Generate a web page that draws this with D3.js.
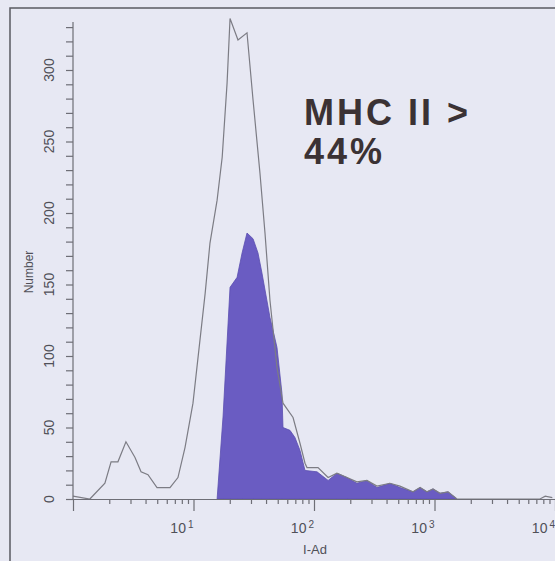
<!DOCTYPE html>
<html>
<head>
<meta charset="utf-8">
<script src="https://cdn.jsdelivr.net/npm/d3@7"></script>
<style>
  body { margin: 0; background: #e8e8f2; }
  svg { display: block; font-family: "Liberation Sans", Arial, sans-serif; }
</style>
</head>
<body>
<script>
// I-Ad fluorescence (channel value) vs cell count
const outlineX = [1, 1.38, 1.84, 2.07, 2.36, 2.75, 3.27, 3.67, 4.19, 4.98, 6.38, 7.43, 8.5, 9.9,
  12.5, 13.7, 15.7, 17.3, 19.0, 20.1, 23.4, 27.8, 31.2, 35.6, 39.2, 43.1, 49.3, 55.3, 67, 76.5,
  84.2, 87.5, 108, 131, 155, 188, 227, 275, 333, 427, 517, 663, 759, 866, 972, 1111, 1295, 1537,
  3500, 7500, 8300, 9500];
const outlineY = [2, 0, 11, 26, 26, 40, 29, 19, 17, 8, 8, 15, 36, 67,
  144, 179, 209, 239, 291, 336, 321, 326, 279, 228, 186, 139, 92, 67, 57, 39,
  25, 22, 22, 15, 18, 15, 12, 13, 9, 11, 9, 5, 8, 5, 7, 4, 5, 0,
  0, 0, 2, 1];

const gatedX = [15.7, 17.6, 20.1, 23.0, 25.3, 27.8, 31.2, 34.3, 37.0, 43.1, 49.3, 54.2, 55.3, 63.2,
  69.5, 76.5, 84.2, 106, 131, 155, 188, 227, 275, 333, 427, 517, 663, 759, 866, 972, 1111, 1295, 1537];
const gatedY = [0, 58, 148, 155, 172, 186, 182, 172, 158, 127, 106, 74, 50, 48,
  43, 34, 20, 19, 13, 18, 15, 11, 13, 8, 11, 8, 5, 8, 5, 7, 4, 5, 0];

const yTicks = [0, 50, 100, 150, 200, 250, 300];
const xDecades = [1, 2, 3, 4];
const xTitle = "I-Ad";
const yTitle = "Number";
const noteLines = ["MHC II >", "44%"];

const width = 555, height = 561;

const svg = d3.select("body").append("svg")
  .attr("width", width)
  .attr("height", height);

svg.append("rect")
  .attr("width", width).attr("height", height)
  .attr("fill", "#e7e8f3");

// frame
svg.append("path")
  .attr("d", "M10,561V8H555")
  .attr("fill", "none")
  .attr("stroke", "#5a5a62")
  .attr("stroke-width", 1.5);

const x = d3.scaleLog().domain([1, 1e4]).range([73, 555]);
const y = d3.scaleLinear().domain([0, 300]).range([499, 70]);

const area = d3.area()
  .x(d => x(d[0]))
  .y0(y(0))
  .y1(d => y(d[1]));

const line = d3.line()
  .x(d => x(d[0]))
  .y(d => y(d[1]));

svg.append("path")
  .datum(d3.zip(gatedX, gatedY))
  .attr("d", area)
  .attr("fill", "#6a5cc2")
  .attr("stroke", "#5a4eb0")
  .attr("stroke-width", 0.8);

svg.append("path")
  .datum(d3.zip(outlineX, outlineY))
  .attr("d", line)
  .attr("fill", "none")
  .attr("stroke", "#7c7c84")
  .attr("stroke-width", 1.2);

// y axis
const yMinor = d3.range(0, 331, 10);
const yAxis = svg.append("g")
  .attr("transform", "translate(73,0)")
  .call(d3.axisLeft(y).tickValues(yMinor).tickSize(7).tickSizeOuter(0).tickFormat(""));
yAxis.select(".domain").attr("d", `M0,${y(0)}V22`);
yAxis.selectAll("line, path").attr("stroke", "#6e6e76").attr("stroke-width", 1.2);

svg.selectAll(".ylab")
  .data(yTicks)
  .enter().append("text")
  .attr("class", "ylab")
  .attr("transform", d => `translate(54,${y(d)}) rotate(-90)`)
  .attr("text-anchor", "middle")
  .attr("font-size", 14)
  .attr("fill", "#505058")
  .text(d => d);

svg.append("text")
  .attr("transform", "translate(33,272) rotate(-90)")
  .attr("text-anchor", "middle")
  .attr("font-size", 12)
  .attr("fill", "#505058")
  .text(yTitle);

// x axis
const xMinor = [];
[1, 10, 100, 1000].forEach(b => d3.range(2, 10).forEach(m => xMinor.push(b * m)));
const xMajor = [1, 10, 100, 1000, 10000];

const xAxis = svg.append("g")
  .attr("transform", `translate(0,${y(0)})`)
  .call(d3.axisBottom(x).tickValues(xMinor).tickSize(5).tickSizeOuter(0).tickFormat(""));
xAxis.append("g")
  .call(d3.axisBottom(x).tickValues(xMajor).tickSize(12).tickSizeOuter(0).tickFormat(""))
  .select(".domain").remove();
xAxis.selectAll("line, path").attr("stroke", "#6e6e76").attr("stroke-width", 1.2);

const xl = svg.selectAll(".xlab")
  .data(xDecades)
  .enter().append("text")
  .attr("class", "xlab")
  .attr("x", d => x(Math.pow(10, d)))
  .attr("y", 533)
  .attr("text-anchor", "end")
  .attr("font-size", 14)
  .attr("fill", "#505058");
xl.append("tspan").text("10");
xl.append("tspan")
  .attr("dx", 2)
  .attr("dy", -5)
  .attr("font-size", 10)
  .text(d => d);

svg.append("text")
  .attr("x", 315)
  .attr("y", 554)
  .attr("text-anchor", "middle")
  .attr("font-size", 13)
  .attr("fill", "#505058")
  .text(xTitle);

// annotation
svg.selectAll(".note")
  .data(noteLines)
  .enter().append("text")
  .attr("class", "note")
  .attr("x", 304)
  .attr("y", (d, i) => 125 + i * 39)
  .attr("font-size", 36)
  .attr("font-weight", "bold")
  .attr("letter-spacing", 3)
  .attr("fill", "#3b3234")
  .text(d => d);
</script>
</body>
</html>
